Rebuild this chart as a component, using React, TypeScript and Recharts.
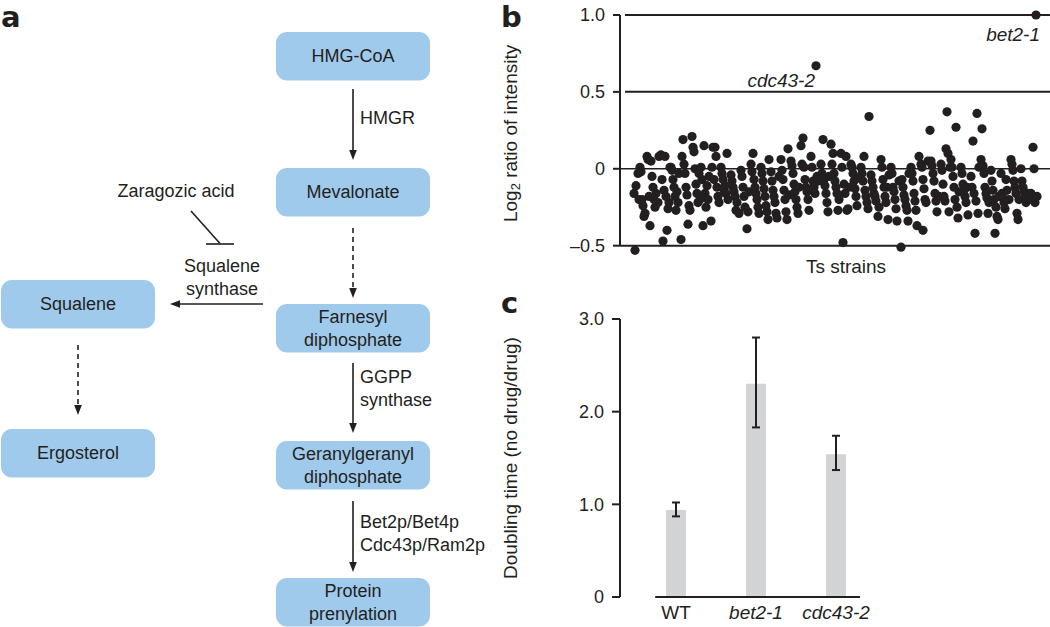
import React from "react";
import {
  ScatterChart,
  Scatter,
  BarChart,
  Bar,
  XAxis,
  YAxis,
  ReferenceLine,
  ErrorBar,
} from "recharts";

const INK = "#231f20";
const BOX = "#9fcaec";
const BAR = "#d1d3d4";
const FONT = '"Liberation Sans", Arial, Helvetica, sans-serif';

// panel b — log2 intensity ratio per Ts strain, [screen order, ratio]
const strainRatios: [number, number][] = [
  [14, -0.16], [15, -0.53], [16, -0.11], [18, -0.03], [19, -0.2],
  [20, 0.01], [21, -0.02], [22, -0.2], [23, -0.24], [24, -0.31], [25, -0.29], [27, 0.08], [28, 0.06], [29, -0.18],
  [30, -0.37], [31, 0.05], [32, -0.05], [33, -0.12], [34, -0.2], [35, -0.25], [36, -0.16], [38, -0.22], [39, 0.08],
  [41, 0.09], [42, -0.07], [43, -0.47], [44, -0.14], [45, 0.08], [46, -0.18], [47, -0.4], [48, -0.26], [49, -0.22], [50, 0.01],
  [51, 0.01], [52, -0.01], [53, -0.07], [54, -0.12], [55, -0.18], [56, -0.27], [57, -0.15], [58, -0.22], [59, -0.03],
  [61, -0.46], [62, 0.08], [63, 0.19], [64, 0.03], [65, -0.03], [66, -0.12], [67, -0.17], [68, -0.36], [69, -0.24], [70, -0.27],
  [72, 0.21], [73, 0.14], [74, 0.11], [75, 0.0], [76, -0.1], [77, -0.16], [78, -0.22], [79, -0.03], [80, -0.2],
  [81, 0.01], [82, -0.07], [83, -0.37], [84, 0.15], [85, -0.16], [86, -0.25], [87, -0.11], [88, -0.2], [89, -0.05],
  [91, -0.34], [92, 0.01], [93, 0.14], [94, -0.07], [95, 0.14], [96, 0.08], [97, -0.12], [98, -0.18], [99, -0.22],
  [101, 0.01], [102, -0.03], [103, -0.07], [104, -0.14], [105, -0.11], [106, -0.16], [107, 0.1], [108, -0.2],
  [111, -0.04], [112, -0.08], [113, -0.12], [114, -0.15], [115, -0.18], [116, -0.27], [117, -0.22], [119, -0.29],
  [121, -0.01], [122, -0.05], [123, -0.12], [124, -0.18], [125, -0.25], [127, -0.39], [128, -0.28], [129, -0.15],
  [131, 0.03], [132, -0.02], [133, 0.1], [134, -0.07], [135, -0.12], [136, -0.16], [137, -0.2], [138, -0.25], [139, -0.29],
  [141, 0.01], [142, -0.03], [143, -0.08], [144, -0.13], [145, -0.18], [146, -0.24], [147, -0.28], [148, -0.33], [149, 0.06],
  [151, -0.02], [152, -0.08], [153, -0.14], [154, -0.18], [155, -0.22], [156, -0.29], [157, -0.32], [159, -0.05],
  [161, 0.06], [162, -0.01], [163, -0.07], [164, -0.14], [165, -0.2], [166, -0.28], [167, -0.33], [168, 0.13], [169, -0.17],
  [171, 0.05], [172, 0.02], [173, -0.03], [174, -0.1], [175, -0.15], [176, -0.2], [177, -0.25], [178, -0.29], [179, -0.12],
  [181, 0.15], [182, 0.03], [183, 0.2], [184, 0.01], [185, -0.07], [186, -0.12], [187, -0.15], [188, -0.2], [189, -0.27],
  [191, 0.08], [192, 0.01], [193, -0.08], [194, -0.12], [195, -0.16], [197, -0.05], [198, -0.08],
  [201, 0.03], [202, -0.03], [203, 0.19], [204, -0.07], [205, -0.11], [206, -0.16], [207, -0.22], [208, -0.28], [209, -0.05],
  [211, 0.16], [212, 0.03], [213, 0.1], [214, -0.03], [215, -0.08], [216, -0.12], [217, -0.16], [218, -0.27], [219, -0.2],
  [221, 0.1], [222, 0.01], [223, -0.48], [224, -0.1], [225, -0.16], [226, 0.08], [227, -0.27], [228, -0.26], [229, -0.12],
  [231, 0.03], [232, 0.01], [233, -0.03], [234, -0.08], [235, -0.13], [236, -0.18], [237, -0.24], [239, -0.06],
  [241, 0.01], [242, -0.03], [243, -0.08], [244, 0.08], [245, -0.14], [246, -0.18], [247, -0.22], [248, -0.26], [249, 0.34],
  [251, -0.04], [252, -0.08], [253, -0.12], [254, -0.16], [255, -0.18], [256, -0.21], [258, -0.31], [259, -0.25],
  [261, 0.06], [262, 0.01], [263, -0.07], [264, -0.12], [265, -0.18], [266, -0.22], [267, -0.12], [268, -0.33], [269, -0.04],
  [271, 0.01], [272, -0.03], [273, -0.12], [274, -0.15], [275, -0.2], [276, -0.26], [277, -0.34], [279, -0.08],
  [281, -0.51], [282, -0.07], [283, -0.12], [284, -0.17], [285, -0.2], [286, -0.24], [287, -0.27], [288, -0.34], [289, -0.03],
  [291, 0.01], [292, -0.03], [293, -0.08], [294, -0.16], [295, -0.21], [296, -0.27], [297, -0.37], [299, 0.08],
  [301, 0.03], [302, 0.01], [303, -0.07], [303, -0.4], [304, -0.13], [305, -0.2], [306, -0.22], [308, 0.05], [310, 0.25],
  [311, 0.05], [312, 0.02], [313, -0.03], [314, -0.08], [315, -0.16], [316, -0.21], [317, -0.28], [319, -0.18],
  [321, 0.03], [322, -0.01], [323, -0.1], [324, -0.18], [325, -0.21], [326, 0.13], [327, 0.37], [328, 0.1], [329, -0.28], [330, 0.01],
  [331, 0.06], [332, 0.01], [333, -0.05], [334, -0.12], [335, -0.2], [336, 0.27], [337, -0.25], [338, -0.32], [339, -0.15],
  [341, 0.01], [342, -0.03], [343, -0.1], [344, -0.14], [345, -0.18], [346, -0.22], [347, -0.12], [348, -0.3],
  [351, -0.05], [352, -0.12], [353, 0.18], [354, -0.16], [355, -0.42], [356, -0.21], [357, 0.36], [358, -0.29], [359, 0.01],
  [361, 0.06], [362, 0.26], [363, 0.02], [364, -0.03], [365, -0.12], [366, -0.16], [367, -0.19], [368, -0.29], [369, -0.22],
  [371, -0.01], [372, -0.08], [373, -0.14], [374, -0.2], [375, -0.42], [376, -0.25], [377, -0.31], [378, -0.33], [379, -0.18],
  [381, -0.03], [382, -0.16], [383, -0.19], [384, -0.22], [385, -0.26], [386, -0.07], [387, -0.14], [389, -0.2],
  [391, 0.06], [392, 0.03], [393, -0.01], [394, -0.08], [395, -0.12], [396, -0.16], [397, -0.29], [398, -0.33], [399, -0.2],
  [401, 0.0], [402, -0.08], [403, -0.12], [404, -0.15], [405, -0.18], [406, -0.22], [408, -0.16],
  [411, -0.16], [412, -0.2], [413, 0.14], [414, 0.0], [415, -0.22], [417, -0.18],
];
const namedStrains = ["cdc43-2", "bet2-1"];
const namedOrder = [196, 416];
const namedRatio = [0.67, 1.0];
const ratioTicks = [-0.5, 0, 0.5, 1.0];

// panel c — doubling time ratio (no drug / drug)
const strains = ["WT", "bet2-1", "cdc43-2"];
const doublingRatio = [0.94, 2.3, 1.54];
const errLow = [0.07, 0.47, 0.17];
const errHigh = [0.08, 0.5, 0.2];
const doublingTicks = [0, 1, 2, 3];

const fmtRatio = (v: number) => (v === 0 ? "0" : v < 0 ? `\u2013${Math.abs(v).toFixed(1)}` : v.toFixed(1));
const fmtDoubling = (v: number) => (v === 0 ? "0" : v.toFixed(1));

const labelShift: Record<string, [number, number]> = {
  "bet2-1": [4, 20],
  "cdc43-2": [-1, 15],
};

function Dot(p: any) {
  return <circle cx={p.cx} cy={p.cy} r={4.6} fill={INK} />;
}

function NamedDot(p: any) {
  const [dx, dy] = labelShift[p.payload.name] || [0, 0];
  return (
    <g>
      <circle cx={p.cx} cy={p.cy} r={4.6} fill={INK} />
      <text
        x={p.cx + dx}
        y={p.cy + dy}
        textAnchor="end"
        dominantBaseline="central"
        fontSize={19}
        fontStyle="italic"
        fill={INK}
      >
        {p.payload.name}
      </text>
    </g>
  );
}

function verticalTitle(children: React.ReactNode) {
  return (props: any) => {
    const vb = props.viewBox || { x: 0, y: 0, height: 0 };
    const cx = vb.x + 20;
    const cy = vb.y + vb.height / 2;
    return (
      <text
        x={cx}
        y={cy}
        transform={`rotate(-90 ${cx} ${cy})`}
        textAnchor="middle"
        dominantBaseline="central"
        fontSize={19}
        fill={INK}
      >
        {children}
      </text>
    );
  };
}

function StrainTick(p: any) {
  const name = strains[p.payload.value];
  return (
    <text
      x={p.x}
      y={p.y + 7}
      textAnchor="middle"
      dominantBaseline="central"
      fontSize={19}
      fontStyle={name === "WT" ? "normal" : "italic"}
      fill={INK}
    >
      {name}
    </text>
  );
}

// pathway boxes (panel a)
const boxes = [
  { lines: ["HMG-CoA"], x: 276, y: 32 },
  { lines: ["Mevalonate"], x: 276, y: 168 },
  { lines: ["Farnesyl", "diphosphate"], x: 276, y: 304 },
  { lines: ["Geranylgeranyl", "diphosphate"], x: 276, y: 441 },
  { lines: ["Protein", "prenylation"], x: 276, y: 578 },
  { lines: ["Squalene"], x: 1, y: 280 },
  { lines: ["Ergosterol"], x: 1, y: 429 },
];

function Arrow({ x1, y1, x2, y2, dashed }: { x1: number; y1: number; x2: number; y2: number; dashed?: boolean }) {
  const len = Math.hypot(x2 - x1, y2 - y1);
  const ux = (x2 - x1) / len;
  const uy = (y2 - y1) / len;
  const bx = x2 - ux * 10;
  const by = y2 - uy * 10;
  return (
    <g>
      <line
        x1={x1}
        y1={y1}
        x2={x2 - ux * 8}
        y2={y2 - uy * 8}
        stroke={INK}
        strokeWidth={1.6}
        strokeDasharray={dashed ? "5 4" : undefined}
      />
      <polygon
        points={`${x2},${y2} ${bx - uy * 3.8},${by + ux * 3.8} ${bx + uy * 3.8},${by - ux * 3.8}`}
        fill={INK}
      />
    </g>
  );
}

function Pathway() {
  const t = { fontSize: 18, fill: INK };
  return (
    <svg width={1050} height={627} style={{ position: "absolute", left: 0, top: 0 }} fontFamily={FONT}>
      <g fontFamily='"DejaVu Sans", sans-serif' fontWeight={700} fontSize={29} fill={INK}>
        <text x={1} y={27}>a</text>
        <text x={501} y={27}>b</text>
        <text x={501} y={313}>c</text>
      </g>
      {boxes.map((b) => (
        <g key={b.lines.join(" ")}>
          <rect x={b.x} y={b.y} width={154} height={48.5} rx={11} fill={BOX} />
          {b.lines.map((ln, i) => (
            <text
              key={ln}
              x={b.x + 77}
              y={b.y + 24 + (b.lines.length === 1 ? 0 : i === 0 ? -11.5 : 11.5)}
              textAnchor="middle"
              dominantBaseline="central"
              {...t}
            >
              {ln}
            </text>
          ))}
        </g>
      ))}
      <Arrow x1={353} y1={89} x2={353} y2={160} />
      <Arrow x1={353} y1={228} x2={353} y2={298} dashed />
      <Arrow x1={263} y1={304} x2={170} y2={304} />
      <Arrow x1={353} y1={363} x2={353} y2={433} />
      <Arrow x1={353} y1={501} x2={353} y2={572} />
      <Arrow x1={78} y1={345} x2={78} y2={415} dashed />
      <line x1={191} y1={211} x2={220} y2={243.5} stroke={INK} strokeWidth={1.6} />
      <line x1={206} y1={244} x2={234} y2={244} stroke={INK} strokeWidth={1.6} />
      <text x={360} y={118} dominantBaseline="central" {...t}>HMGR</text>
      <text x={176} y={191} textAnchor="middle" dominantBaseline="central" {...t}>Zaragozic acid</text>
      <text x={222} y={266} textAnchor="middle" dominantBaseline="central" {...t}>Squalene</text>
      <text x={222} y={289} textAnchor="middle" dominantBaseline="central" {...t}>synthase</text>
      <text x={360} y={377} dominantBaseline="central" {...t}>GGPP</text>
      <text x={360} y={400} dominantBaseline="central" {...t}>synthase</text>
      <text x={360} y={522} dominantBaseline="central" {...t}>Bet2p/Bet4p</text>
      <text x={360} y={545} dominantBaseline="central" {...t}>Cdc43p/Ram2p</text>
    </svg>
  );
}

export default function App() {
  const points = strainRatios.map(([x, y]) => ({ x, y }));
  const named = namedStrains.map((name, i) => ({ name, x: namedOrder[i], y: namedRatio[i] }));
  const barData = strains.map((s, i) => ({
    pos: i,
    name: s,
    value: doublingRatio[i],
    err: [errLow[i], errHigh[i]],
  }));

  return (
    <div
      style={{
        position: "absolute",
        left: 0,
        top: 0,
        width: 1050,
        height: 627,
        background: "#fff",
        fontFamily: FONT,
        color: INK,
      }}
    >
      <Pathway />

      {/* b: scatter of Ts strains */}
      <div style={{ position: "absolute", left: 490, top: 0 }}>
        <ScatterChart width={560} height={290} margin={{ top: 11.9, right: 0, bottom: 5, left: 0 }}>
          <XAxis
            type="number"
            dataKey="x"
            domain={[0, 430]}
            tick={false}
            tickLine={false}
            axisLine={false}
            height={30.1}
            label={(props: any) => {
              const vb = props.viewBox || { x: 0, y: 0, width: 0 };
              return (
                <text
                  x={vb.x + vb.width / 2 + 11}
                  y={vb.y + 12}
                  textAnchor="middle"
                  dominantBaseline="central"
                  fontSize={19}
                  fill={INK}
                >
                  Ts strains
                </text>
              );
            }}
          />
          <YAxis
            type="number"
            dataKey="y"
            domain={[-0.56, 1.02]}
            ticks={ratioTicks}
            width={130}
            axisLine={false}
            tickLine={{ stroke: INK, strokeWidth: 2 }}
            tickSize={7}
            tickMargin={8}
            tick={{ fill: INK, fontSize: 18 }}
            tickFormatter={fmtRatio}
            label={verticalTitle(
              <>
                <tspan>Log</tspan>
                <tspan dy={5} fontSize={13}>2</tspan>
                <tspan dy={-5}> ratio of intensity</tspan>
              </>
            )}
          />
          {ratioTicks.map((v) => (
            <ReferenceLine
              key={v}
              segment={[
                { x: v > 0 ? 5 : 0, y: v },
                { x: 430, y: v },
              ]}
              stroke={INK}
              strokeWidth={v === 0 ? 1.5 : 2}
            />
          ))}
          <ReferenceLine
            segment={[
              { x: 0, y: -0.5 },
              { x: 0, y: 1 },
            ]}
            stroke={INK}
            strokeWidth={2}
          />
          <Scatter data={points} shape={Dot} isAnimationActive={false} />
          <Scatter data={named} shape={NamedDot} isAnimationActive={false} />
        </ScatterChart>
      </div>

      {/* c: doubling time bars */}
      <div style={{ position: "absolute", left: 490, top: 290 }}>
        <BarChart width={390} height={337} data={barData} margin={{ top: 29, right: 0, bottom: 0, left: 0 }}>
          <XAxis
            type="number"
            dataKey="pos"
            domain={[-0.7, 2.55]}
            ticks={[0, 1, 2]}
            interval={0}
            tick={StrainTick}
            tickLine={false}
            axisLine={false}
            height={30}
          />
          <YAxis
            type="number"
            domain={[0, 3]}
            ticks={doublingTicks}
            width={130}
            axisLine={{ stroke: INK, strokeWidth: 2 }}
            tickLine={{ stroke: INK, strokeWidth: 2 }}
            tickSize={8}
            tickMargin={8}
            tick={{ fill: INK, fontSize: 18 }}
            tickFormatter={fmtDoubling}
            label={verticalTitle("Doubling time (no drug/drug)")}
          />
          <Bar dataKey="value" fill={BAR} barSize={20} isAnimationActive={false}>
            <ErrorBar dataKey="err" width={4} strokeWidth={2} stroke={INK} direction="y" />
          </Bar>
          <ReferenceLine
            segment={[
              { x: -0.26, y: 0 },
              { x: 2.3, y: 0 },
            ]}
            stroke={INK}
            strokeWidth={2}
          />
        </BarChart>
      </div>
    </div>
  );
}
